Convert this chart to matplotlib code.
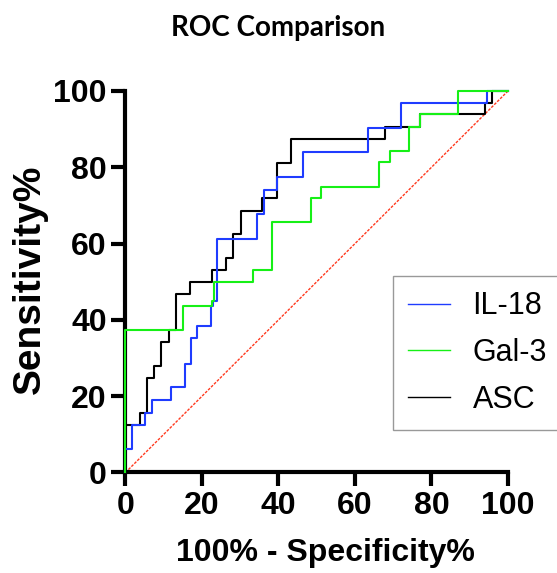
import matplotlib
matplotlib.use("Agg")
import matplotlib.pyplot as plt

# ── ROC 数据（阶梯拐点：在 x 处上升到 y，然后水平延伸） ──────────────────────

il18_x = [0, 0, 1.6, 5.1, 6.8, 12.0, 15.5, 17.0, 18.8, 22.3, 23.0, 24.0, 34.4, 36.2, 39.5, 46.3, 63.4, 72.1, 94.5, 100]
il18_y = [0, 6.1, 12.5, 15.7, 19.0, 22.4, 28.5, 35.3, 38.3, 43.6, 45.0, 61.1, 67.8, 74.1, 77.4, 83.9, 90.4, 96.8, 100, 100]

gal3_x = [0, 0, 15.1, 22.5, 23.2, 33.3, 38.3, 48.6, 51.2, 66.4, 69.1, 74.1, 76.9, 86.9, 100]
gal3_y = [0, 37.4, 43.7, 45.0, 49.9, 53.1, 65.6, 71.9, 74.9, 81.3, 84.4, 90.5, 93.9, 100, 100]

asc_x = [0, 0, 3.8, 5.5, 7.5, 9.4, 11.4, 13.2, 16.8, 22.5, 26.2, 28.1, 30.2, 35.7, 39.5, 43.3, 67.8, 76.9, 94.1, 95.9, 100]
asc_y = [0, 12.5, 15.5, 24.9, 27.9, 34.3, 37.4, 46.8, 49.9, 53.1, 56.1, 62.5, 68.6, 71.9, 81.1, 87.5, 90.5, 93.9, 96.8, 100, 100]

ticks = [0, 20, 40, 60, 80, 100]

# ── 绘图 ──────────────────────────────────────────────────────────────────────

plt.rcParams["font.family"] = ["Liberation Sans", "DejaVu Sans"]

fig = plt.figure(figsize=(5.57, 5.73), dpi=100)
ax = fig.add_axes([0.2253, 0.1754, 0.6867, 0.6658])

ax.plot([0, 100], [0, 100], color="#ff3a1f", lw=1.0, ls=(0, (2, 1)), zorder=2, clip_on=False)
l_asc, = ax.step(asc_x, asc_y, where="post", color="black", lw=1.5, zorder=4, clip_on=False)
l_il, = ax.step(il18_x, il18_y, where="post", color="#1f3cff", lw=1.5, zorder=5, clip_on=False)
l_gal, = ax.step(gal3_x, gal3_y, where="post", color="#16f016", lw=1.5, zorder=6, clip_on=False)

ax.set_xlim(0, 100)
ax.set_ylim(0, 100)
ax.set_xticks(ticks)
ax.set_yticks(ticks)
for s in ["top", "right"]:
    ax.spines[s].set_visible(False)
for s in ["left", "bottom"]:
    ax.spines[s].set_linewidth(3.0)
ax.tick_params(width=3.0, length=10, labelsize=23)
for lb in ax.get_xticklabels() + ax.get_yticklabels():
    lb.set_fontweight("bold")

fig.text(0.5, 0.951, "ROC Comparison", ha="center", va="center",
         fontsize=20, fontweight="bold", family=["Lato", "DejaVu Sans"])
fig.text(0.584, 0.035, "100% - Specificity%", ha="center", va="center",
         fontsize=23, fontweight="bold")
fig.text(0.054, 0.512, "Sensitivity%", ha="center", va="center",
         fontsize=28, fontweight="bold", rotation=90)

leg = fig.legend([l_il, l_gal, l_asc], ["IL-18", "Gal-3", "ASC"],
                 loc="upper left", bbox_to_anchor=(0.7056, 0.5183),
                 fontsize=22, frameon=True, fancybox=False,
                 handlelength=1.35, handletextpad=0.75, labelspacing=0.55,
                 borderpad=0.5, borderaxespad=0)
leg.get_frame().set_edgecolor("#808080")
leg.get_frame().set_linewidth(1.0)
for h in leg.get_lines():
    h.set_linewidth(1.0)

plt.savefig("out.png", dpi=100)
